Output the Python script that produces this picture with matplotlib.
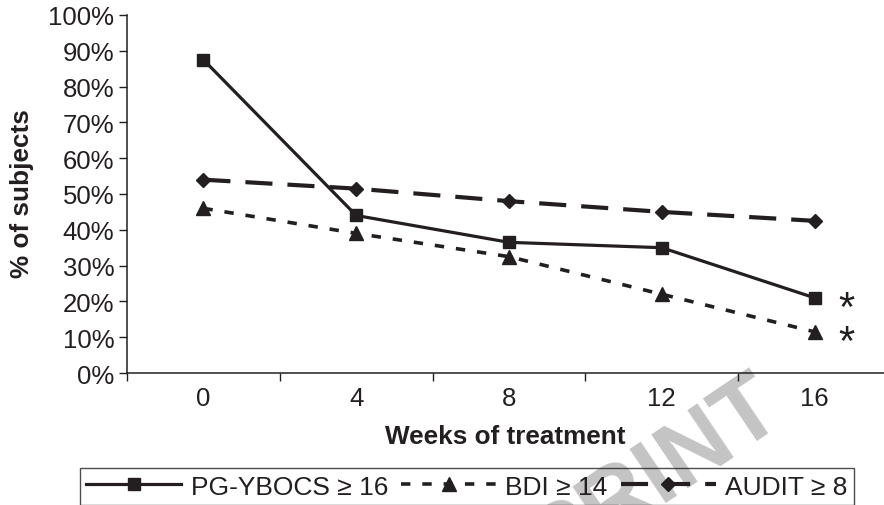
import matplotlib
matplotlib.use("Agg")
import matplotlib.pyplot as plt
import numpy as np

plt.rcParams['font.family'] = ['Liberation Sans', 'DejaVu Sans']

weeks = ["0", "4", "8", "12", "16"]
pg_ybocs = [87.5, 44, 36.5, 35, 21]
bdi = [46, 39, 32.5, 22, 11.5]
audit = [54, 51.5, 48, 45, 42.5]
y_ticks = [0, 10, 20, 30, 40, 50, 60, 70, 80, 90, 100]
labels = ["PG-YBOCS \u2265 16", "BDI \u2265 14", "AUDIT \u2265 8"]
starred = [pg_ybocs[-1], bdi[-1]]

ink = "#231f20"
W, H = 884, 506
fig = plt.figure(figsize=(W / 100, H / 100), dpi=100)
ax = fig.add_axes([127 / W, (H - 374) / H, (891 - 127) / W, (374 - 16) / H])
ax.set_zorder(1)

x = np.arange(len(weeks))
# watermark (behind everything)
fig.text(655, H - 476, "PRINT", transform=None, fontsize=68, fontweight='bold',
         color="#c4c4c4", rotation=34, ha='center', va='center', zorder=0.5)

l1, = ax.plot(x, pg_ybocs, color=ink, lw=2.3, marker='s', ms=8.5,
              linestyle='-', label=labels[0], zorder=3)
l2, = ax.plot(x, bdi, color=ink, lw=2.6, marker='^', ms=9.5,
              linestyle=(0, (2.6, 3.3)), label=labels[1], zorder=3)
l3, = ax.plot(x, audit, color=ink, lw=3.0, marker='D', ms=7.5,
              linestyle=(0, (6.5, 3.6)), label=labels[2], zorder=3)

for v in starred:
    ax.annotate("*", (x[-1], v), xytext=(23, -8), textcoords='offset points',
                fontsize=30, color=ink, ha='center', va='center')

ax.set_xlim(-0.5, 4.5)
ax.set_ylim(0, 100)
ax.set_yticks(y_ticks)
ax.set_yticklabels([f"{t}%" for t in y_ticks])
ax.set_xticks(np.arange(-0.5, 5, 1))
ax.set_xticklabels([])
ax.set_xticks(x, minor=True)
ax.set_xticklabels(weeks, minor=True)
ax.tick_params(axis='x', which='major', length=6, width=1, color=ink, direction='out')
ax.tick_params(axis='x', which='minor', length=0, pad=9, labelsize=18.5, labelcolor=ink)
ax.tick_params(axis='y', length=6, width=1, color=ink, direction='out', pad=3,
               labelsize=18.5, labelcolor=ink)
for s in ['top', 'right']:
    ax.spines[s].set_visible(False)
for s in ['left', 'bottom']:
    ax.spines[s].set_color(ink)
    ax.spines[s].set_linewidth(1.1)
ax.patch.set_alpha(0)

fig.text(505, H - 437, "Weeks of treatment", transform=None, fontsize=18.8,
         fontweight='bold', color=ink, ha='center', va='center')
fig.text(22, H - 194, "% of subjects", transform=None, fontsize=18.8,
         fontweight='bold', color=ink, ha='center', va='center', rotation=90)

leg = fig.legend(handles=[l1, l2, l3], labels=labels, ncol=3,
                 loc='upper center', bbox_to_anchor=(467 / W, (H - 469) / H),
                 borderaxespad=0,
                 frameon=True, fancybox=False, edgecolor=ink, facecolor='none',
                 fontsize=19, handlelength=3.6, handletextpad=0.35,
                 columnspacing=0.5, borderpad=0.25, labelcolor=ink)
leg.get_frame().set_linewidth(1.0)
leg.set_zorder(5)

fig.savefig("out.png", dpi=100)
